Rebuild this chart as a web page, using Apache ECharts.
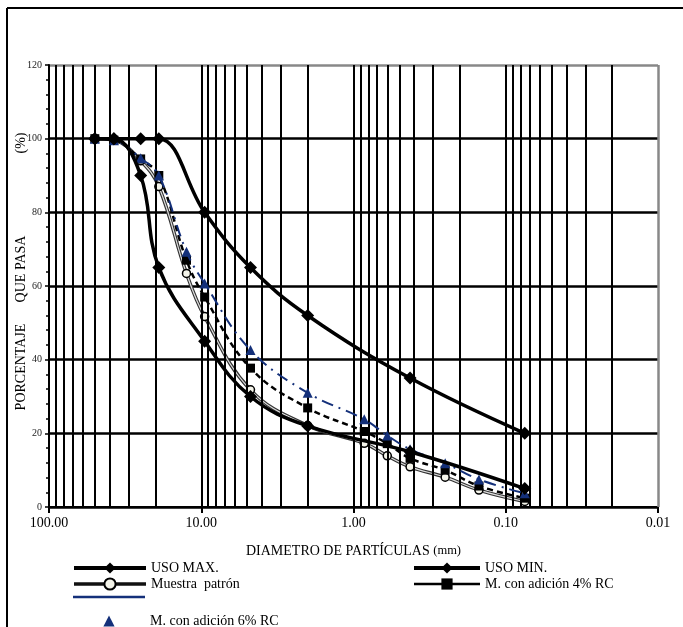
<!DOCTYPE html>
<html>
<head>
<meta charset="utf-8">
<script src="https://cdn.jsdelivr.net/npm/echarts@6/dist/echarts.min.js"></script>
<style>
html,body{margin:0;padding:0;background:#fff;}
#chart{width:683px;height:627px;}
</style>
</head>
<body>
<div id="chart"></div>
<script>
// Sieve sizes (mm)
var usoSizes = [50, 37.5, 25, 19, 9.5, 4.75, 2, 0.425, 0.075];
var usoMax = [100, 100, 100, 100, 80, 65, 52, 35, 20];
var usoMin = [100, 100, 90, 65, 45, 30, 22, 15, 5];

var sampleSizes = [50, 37.5, 25, 19, 12.5, 9.5, 4.75, 2, 0.85, 0.6, 0.425, 0.25, 0.15, 0.075];
var muestraPatron = [100, 99.6, 94, 87, 63.4, 51.7, 31.8, 22.1, 17.3, 13.9, 10.9, 8.1, 4.6, 1.5];
var adicion4 = [100, 99.6, 94.5, 90, 67, 57, 37.7, 26.9, 20.5, 17.2, 13.2, 10, 5.7, 2.4];
var adicion6 = [100, 99.6, 94.7, 90, 69.3, 60.7, 42.6, 31, 23.8, 19.4, 15.7, 11.9, 7.5, 3.7];

var xDecades = [10, 1, 0.1, 0.01];
var xGridMultipliers = [2, 3, 4, 5, 6, 7, 8, 9];

var serif = '"Liberation Serif", "DejaVu Serif", serif';

function pairs(xs, ys){ return xs.map(function(x,i){ return [x, ys[i]]; }); }

var gridLines = [];
xDecades.forEach(function(d){
  xGridMultipliers.forEach(function(k){ gridLines.push({xAxis: d*k}); });
  if (d !== 0.01) gridLines.push({xAxis: d});
});
gridLines.push({xAxis: 0.01, lineStyle: {color: '#888', width: 2.5, type: 'solid'}});

var navy = '#14307a';
var legendText = {fontFamily: serif, fontSize: 14, color: '#000'};

var chart = echarts.init(document.getElementById('chart'), null, {renderer: 'canvas'});
var option = {
  animation: false,
  backgroundColor: '#fff',
  grid: {left: 49, right: 25, top: 65, bottom: 120},
  xAxis: {
    type: 'log', logBase: 10, min: 0.01, max: 100, inverse: true,
    axisLine: {lineStyle: {color: '#000', width: 2}},
    axisTick: {show: true, length: 6, lineStyle: {color: '#000', width: 2}},
    splitLine: {show: false},
    axisLabel: {formatter: function(v){ return Number(v).toFixed(2); }, fontFamily: serif, fontSize: 14, color: '#000', margin: 9},
    name: '{a|DIAMETRO DE PARTÍCULAS }{b|(mm)}',
    nameLocation: 'middle', nameGap: 37,
    nameTextStyle: {rich: {a: {fontFamily: serif, fontSize: 14, color: '#000'}, b: {fontFamily: serif, fontSize: 12.5, color: '#000'}}}
  },
  yAxis: {
    type: 'value', min: 0, max: 120, interval: 20,
    axisLine: {show: true, lineStyle: {color: '#000', width: 2}},
    axisTick: {show: true, length: 4, lineStyle: {color: '#000', width: 1.5}},
    minorTick: {show: true, splitNumber: 5, length: 3, lineStyle: {color: '#000', width: 1.5}},
    splitLine: {show: true, lineStyle: {color: ['#000','#000','#000','#000','#000','#000','#888'], width: 2.5}},
    axisLabel: {fontFamily: serif, fontSize: 10, color: '#222', margin: 7}
  },
  legend: [
    {
      left: 67, top: 556, orient: 'vertical', itemWidth: 72, itemHeight: 14, itemGap: 2,
      textStyle: legendText,
      data: [
        {name: 'USO MAX.', lineStyle: {width: 4}},
        {name: 'Muestra  patrón', lineStyle: {width: 3.5, color: '#111'}}
      ]
    },
    {
      left: 67, top: 609, orient: 'vertical', itemWidth: 72, itemHeight: 14, itemGap: 2,
      textStyle: legendText,
      data: [
        {name: 'M. con adición 6% RC', lineStyle: {opacity: 0}}
      ]
    },
    {
      left: 407, top: 556, orient: 'vertical', itemWidth: 66, itemHeight: 14, itemGap: 2,
      textStyle: legendText,
      data: [
        {name: 'USO MIN.', lineStyle: {width: 4}},
        {name: 'M. con adición 4% RC', lineStyle: {type: 'solid', width: 2.5}}
      ]
    }
  ],
  graphic: [
    {type: 'line', shape: {x1: 7, y1: 8, x2: 683, y2: 8}, style: {stroke: '#000', lineWidth: 2}},
    {type: 'line', shape: {x1: 7, y1: 8, x2: 7, y2: 627}, style: {stroke: '#000', lineWidth: 2}},
    {type: 'line', shape: {x1: 73, y1: 597, x2: 145, y2: 597}, style: {stroke: navy, lineWidth: 2.5}},
    {type: 'text', x: 21, y: 367, rotation: Math.PI/2, style: {text: 'PORCENTAJE', font: '14px ' + serif, fill: '#000', textAlign: 'center', textVerticalAlign: 'middle'}},
    {type: 'text', x: 21, y: 269, rotation: Math.PI/2, style: {text: 'QUE PASA', font: '14px ' + serif, fill: '#000', textAlign: 'center', textVerticalAlign: 'middle'}},
    {type: 'text', x: 21, y: 143, rotation: Math.PI/2, style: {text: '(%)', font: '14px ' + serif, fill: '#000', textAlign: 'center', textVerticalAlign: 'middle'}}
  ],
  series: [
    {
      name: 'grid', type: 'line', data: [], z: 1, silent: true,
      markLine: {silent: true, symbol: ['none','none'], label: {show: false}, animation: false,
        lineStyle: {color: '#000', width: 2, type: 'solid'}, data: gridLines}
    },
    {
      name: 'Muestra  patrón', type: 'line', data: pairs(sampleSizes, muestraPatron), smooth: 0.4, z: 3,
      symbol: 'circle', symbolSize: 8,
      lineStyle: {color: '#333', width: 3.5},
      itemStyle: {color: '#f4f4ea', borderColor: '#000', borderWidth: 1.5}
    },
    {
      name: 'patron-inner', type: 'line', data: pairs(sampleSizes, muestraPatron), smooth: 0.4, z: 3,
      symbol: 'none', silent: true, lineStyle: {color: '#ddd', width: 1.2}
    },
    {
      name: 'M. con adición 4% RC', type: 'line', data: pairs(sampleSizes, adicion4), smooth: 0.4, z: 4,
      symbol: 'rect', symbolSize: 9,
      lineStyle: {color: '#000', width: 2.5, type: [6, 4]},
      itemStyle: {color: '#000'}
    },
    {
      name: 'M. con adición 6% RC', type: 'line', data: pairs(sampleSizes, adicion6), smooth: 0.4, z: 5,
      symbol: 'triangle', symbolSize: 10,
      lineStyle: {color: navy, width: 2, type: [12, 6, 2, 6]},
      itemStyle: {color: navy}
    },
    {
      name: 'USO MAX.', type: 'line', data: pairs(usoSizes, usoMax), smooth: 0.4, z: 6,
      symbol: 'diamond', symbolSize: 13,
      lineStyle: {color: '#000', width: 3.5},
      itemStyle: {color: '#000'}
    },
    {
      name: 'USO MIN.', type: 'line', data: pairs(usoSizes, usoMin), smooth: 0.4, z: 6,
      symbol: 'diamond', symbolSize: 13,
      lineStyle: {color: '#000', width: 3.5},
      itemStyle: {color: '#000'}
    }
  ]
};
chart.setOption(option);
</script>
</body>
</html>
